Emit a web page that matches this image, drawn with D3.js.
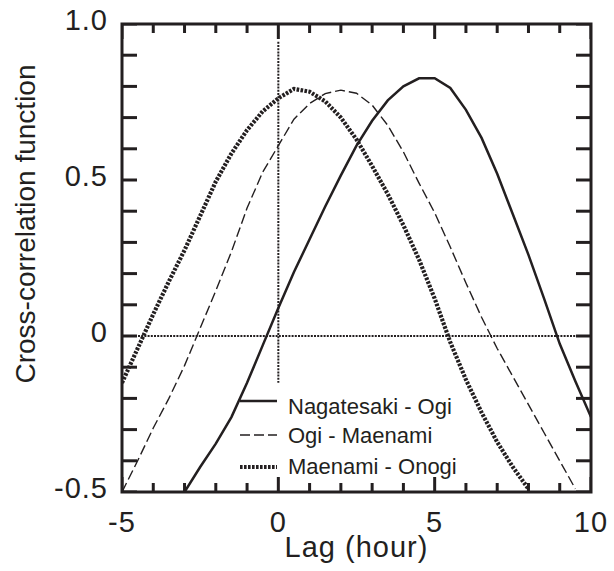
<!DOCTYPE html>
<html><head><meta charset="utf-8">
<script src="https://cdn.jsdelivr.net/npm/d3@7"></script>
<style>
html,body{margin:0;padding:0;background:#fff;}
svg{display:block;}
text{font-family:"Liberation Sans",Arial,Helvetica,sans-serif;fill:#231f20;}
</style></head>
<body>
<svg id="chart" width="614" height="571"></svg>
<script>
// ---- data ----
const seriesNames = ["Nagatesaki - Ogi", "Ogi - Maenami", "Maenami - Onogi"];

const lagSolid = [-3,-2.5,-2,-1.5,-1,-0.5,0,0.5,1,1.5,2,2.5,3,3.5,4,4.5,5,5.5,6,6.5,7,7.5,8,8.5,9,9.5,10];
const valSolid = [-0.50,-0.42,-0.345,-0.26,-0.15,-0.03,0.09,0.205,0.31,0.415,0.515,0.61,0.69,0.755,0.80,0.826,0.826,0.795,0.725,0.635,0.52,0.39,0.26,0.12,-0.025,-0.145,-0.26];

const lagDashed = [-5,-4.5,-4,-3.5,-3,-2.5,-2,-1.5,-1,-0.5,0,0.5,1,1.5,2,2.5,3,3.5,4,4.5,5,5.5,6,6.5,7,7.5,8,8.5,9,9.5];
const valDashed = [-0.50,-0.40,-0.295,-0.20,-0.095,0.025,0.145,0.27,0.41,0.525,0.61,0.695,0.745,0.777,0.788,0.778,0.74,0.675,0.59,0.49,0.395,0.285,0.17,0.06,-0.04,-0.13,-0.22,-0.31,-0.40,-0.49];

const lagDotted = [-5,-4.5,-4,-3.5,-3,-2.5,-2,-1.5,-1,-0.5,0,0.5,1,1.5,2,2.5,3,3.5,4,4.5,5,5.5,6,6.5,7,7.5,8];
const valDotted = [-0.15,-0.04,0.07,0.175,0.275,0.385,0.495,0.585,0.66,0.72,0.762,0.792,0.783,0.752,0.70,0.63,0.545,0.455,0.355,0.245,0.12,-0.02,-0.14,-0.245,-0.34,-0.42,-0.49];

const xMinorTicks = [-5,-4,-3,-2,-1,0,1,2,3,4,5,6,7,8,9,10];
const xMajorTicks = [-5, 0, 5, 10];
const xTickLabels = ["-5", "0", "5", "10"];
const yMinorTicks = [-0.5,-0.4,-0.3,-0.2,-0.1,0,0.1,0.2,0.3,0.4,0.5,0.6,0.7,0.8,0.9,1.0];
const yLabelTicks = [1.0, 0.5, 0, -0.5];
const yTickLabels = ["1.0", "0.5", "0", "-0.5"];
const xTitle = "Lag (hour)";
const yTitle = "Cross-correlation function";

// ---- layout ----
const L = 122, R = 591, T = 24, B = 492;
const xs = d3.scaleLinear().domain([-5, 10]).range([L, R]);
const ys = d3.scaleLinear().domain([-0.5, 1.0]).range([B, T]);
const svg = d3.select("#chart");
const ink = "#231f20";

svg.append("defs").append("clipPath").attr("id", "clip")
  .append("rect").attr("x", L).attr("y", T).attr("width", R - L).attr("height", B - T);

const line = d3.line().x(d => xs(d[0])).y(d => ys(d[1]));
const plot = svg.append("g").attr("clip-path", "url(#clip)");

// ticks: short segments in data units, drawn with the same line generator
const pxX = 15 / (R - L), pxY = 1.5 / (B - T); // data units per pixel
const tickSegs = [];
xMinorTicks.forEach(v => {
  const len = (xMajorTicks.indexOf(v) >= 0 ? 15 : 9) * pxY;
  tickSegs.push([[v, -0.5], [v, -0.5 + len]]);
  tickSegs.push([[v, 1.0], [v, 1.0 - len]]);
});
yMinorTicks.forEach(v => {
  const len = 15 * pxX;
  tickSegs.push([[-5, v], [-5 + len, v]]);
  tickSegs.push([[10, v], [10 - len, v]]);
});
plot.selectAll("path.tick").data(tickSegs).enter().append("path").attr("class", "tk")
  .attr("d", line).attr("fill", "none").attr("stroke", ink).attr("stroke-width", 3);

// frame
svg.append("rect").attr("x", L).attr("y", T).attr("width", R - L).attr("height", B - T)
  .attr("fill", "none").attr("stroke", ink).attr("stroke-width", 3);

// tick labels
svg.append("g").selectAll("text").data(xMajorTicks).join("text")
  .attr("x", d => xs(d)).attr("y", B + 40)
  .attr("text-anchor", "middle").attr("font-size", 29).attr("letter-spacing", 1)
  .text((d, i) => xTickLabels[i]);
svg.append("g").selectAll("text").data(yLabelTicks).join("text")
  .attr("x", 108).attr("y", d => ys(d) + 6)
  .attr("text-anchor", "end").attr("font-size", 29).attr("letter-spacing", 1)
  .text((d, i) => yTickLabels[i]);

// titles
svg.append("text").attr("x", (L + R) / 2).attr("y", 557)
  .attr("text-anchor", "middle").attr("font-size", 29).attr("letter-spacing", 1).text(xTitle);
svg.append("text").attr("transform", "translate(35,224) rotate(-90)")
  .attr("text-anchor", "middle").attr("font-size", 28).text(yTitle);

// reference lines
svg.append("line").attr("x1", L).attr("x2", R).attr("y1", ys(0)).attr("y2", ys(0))
  .attr("stroke", ink).attr("stroke-width", 2).attr("stroke-dasharray", "2,1.2");
svg.append("line").attr("x1", xs(0)).attr("x2", xs(0)).attr("y1", ys(0.943)).attr("y2", ys(-0.15))
  .attr("stroke", ink).attr("stroke-width", 2).attr("stroke-dasharray", "2,1.2");

// series
const styles = [
  {w: 2.5, dash: null},
  {w: 1.4, dash: "10,4"},
  {w: 4.2, dash: "2.6,1.4"}
];
const series = [
  d3.zip(lagSolid, valSolid),
  d3.zip(lagDashed, valDashed),
  d3.zip(lagDotted, valDotted)
];
series.forEach((s, i) => {
  plot.append("path").datum(s).attr("d", line).attr("fill", "none")
    .attr("stroke", ink).attr("stroke-width", styles[i].w)
    .attr("stroke-dasharray", styles[i].dash);
});

// legend
const legY = [401, 435, 467];
const legTextY = [414, 443, 474];
const leg = svg.append("g");
seriesNames.forEach((n, i) => {
  leg.append("line").attr("x1", 240).attr("x2", 277).attr("y1", legY[i]).attr("y2", legY[i])
    .attr("stroke", ink).attr("stroke-width", styles[i].w)
    .attr("stroke-dasharray", styles[i].dash);
  leg.append("text").attr("x", 288).attr("y", legTextY[i]).attr("font-size", 22).text(n);
});
</script>
</body></html>
